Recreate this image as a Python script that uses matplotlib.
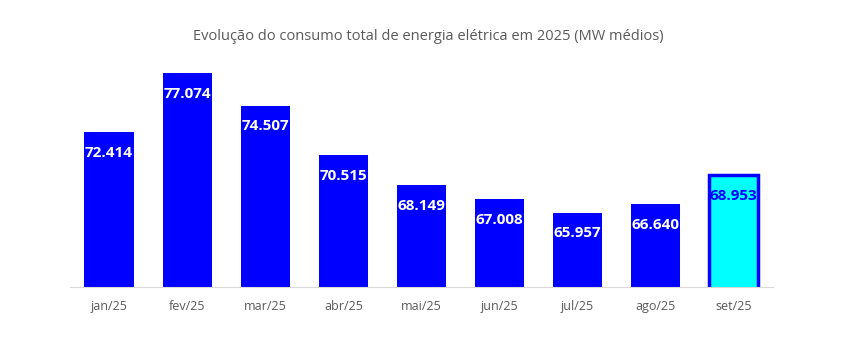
import matplotlib.pyplot as plt

meses = ["jan/25", "fev/25", "mar/25", "abr/25", "mai/25", "jun/25", "jul/25", "ago/25", "set/25"]
consumo = [72.414, 77.074, 74.507, 70.515, 68.149, 67.008, 65.957, 66.640, 68.953]
rotulos = ["72.414", "77.074", "74.507", "70.515", "68.149", "67.008", "65.957", "66.640", "68.953"]

plt.rcParams['font.family'] = ['Open Sans', 'DejaVu Sans']

fig = plt.figure(figsize=(8.56, 3.57), dpi=100)
ax = fig.add_axes([0.0818, 0.196, 0.821, 0.636])

cores = ["#0000ff"] * 8 + ["#00ffff"]
barras = ax.bar(meses, consumo, width=0.63, color=cores, bottom=0)
barras[-1].set_edgecolor("#0000ff")
barras[-1].set_linewidth(2.5)

for i, (v, txt) in enumerate(zip(consumo, rotulos)):
    cor = "#0000ff" if i == len(consumo) - 1 else "white"
    ax.annotate(txt, (i, v), xytext=(0, -15), textcoords="offset points",
                ha="center", va="center", color=cor, fontsize=11, fontweight="bold")

ax.set_ylim(60, 78.15)
ax.set_xlim(-0.5, len(meses) - 0.5)
ax.set_yticks([])
for s in ["top", "right", "left"]:
    ax.spines[s].set_visible(False)
ax.spines["bottom"].set_color("#d9d9d9")
ax.tick_params(axis="x", length=0, pad=9, labelsize=9, labelcolor="#595959")

fig.text(0.5, 0.898, "Evolução do consumo total de energia elétrica em 2025 (MW médios)",
         ha="center", va="center", fontsize=10.5, color="#595959")

fig.savefig("out.png", dpi=100)
